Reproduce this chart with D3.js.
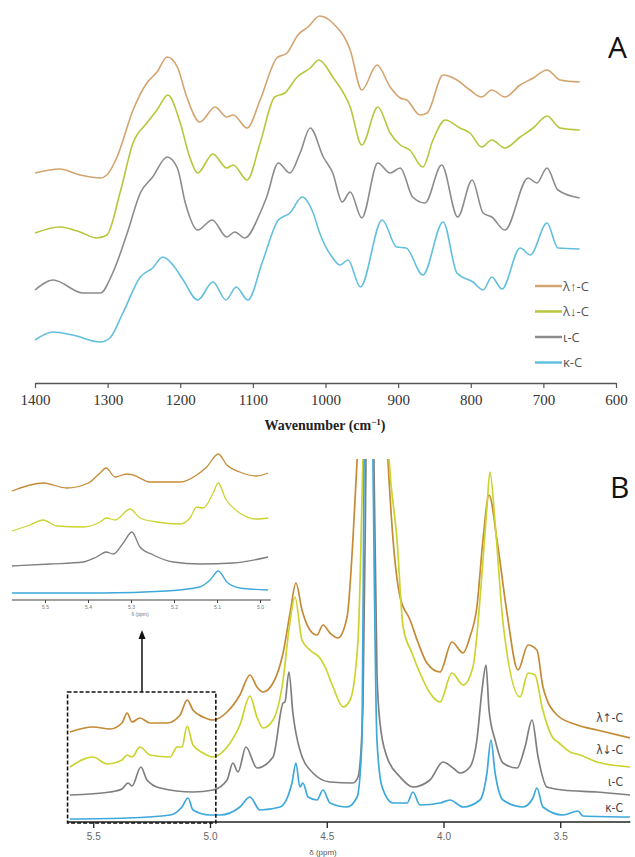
<!DOCTYPE html>
<html>
<head>
<meta charset="utf-8">
<script src="https://cdn.jsdelivr.net/npm/d3@7"></script>
<style>
  body { margin: 0; background: #fff; }
  svg { display: block; }
</style>
</head>
<body>
<div id="chart"></div>
<script>
// ---- data: panel A (FTIR), [wavenumber cm-1, absorbance a.u. incl. offset]
const irSeries = ["λ↑-C", "λ↓-C", "ι-C", "κ-C"];
const irTicks = [1400, 1300, 1200, 1100, 1000, 900, 800, 700, 600];

const irLambdaUp = [[1400,21.0],[1366,21.4],[1338,20.8],[1310,20.5],[1301,20.8],[1287,22.6],[1265,27.3],[1246,30.0],[1232,31.1],[1218,32.6],[1204,31.6],[1191,28.6],[1173,26.1],[1152,27.6],[1136,26.6],[1127,26.8],[1108,25.5],[1090,28.3],[1067,32.5],[1053,33.0],[1038,34.8],[1024,35.6],[1008,36.7],[990,36.0],[966,33.3],[950,29.3],[929,31.8],[911,29.6],[897,28.5],[888,28.3],[870,26.8],[860,27.0],[838,30.8],[819,30.3],[801,29.3],[785,28.6],[771,29.3],[753,28.6],[732,29.8],[714,30.5],[695,31.3],[677,30.3],[650,30.1]];
const irLambdaDown = [[1400,15.0],[1366,15.6],[1338,15.1],[1315,14.5],[1301,14.8],[1283,19.0],[1265,24.0],[1246,26.0],[1232,27.3],[1217,28.8],[1200,26.0],[1187,22.6],[1176,21.0],[1155,22.9],[1136,21.5],[1127,21.8],[1108,20.3],[1090,24.0],[1070,28.6],[1056,29.0],[1039,30.6],[1021,31.5],[1009,32.3],[990,30.6],[966,27.6],[950,23.8],[928,27.6],[911,25.0],[897,23.8],[884,23.3],[866,21.6],[852,24.3],[835,26.3],[815,25.5],[801,25.0],[785,23.6],[771,24.3],[753,23.5],[732,24.6],[714,25.5],[695,26.7],[677,25.5],[650,25.3]];
const irIota = [[1400,9.3],[1375,10.3],[1334,9.0],[1310,9.0],[1293,11.0],[1273,15.0],[1255,19.0],[1238,20.6],[1218,22.6],[1204,21.5],[1193,18.0],[1176,15.3],[1156,16.3],[1136,14.6],[1125,15.1],[1111,14.5],[1090,17.0],[1081,18.6],[1065,22.0],[1049,21.0],[1035,23.0],[1021,25.5],[1003,22.6],[990,21.0],[977,18.1],[966,19.1],[950,16.5],[928,22.0],[911,21.0],[897,21.5],[880,18.6],[863,18.0],[840,21.8],[818,16.6],[798,20.3],[783,17.0],[771,16.6],[753,15.3],[721,20.5],[709,20.0],[695,21.5],[680,19.3],[650,18.5]];
const irKappa = [[1400,4.3],[1375,5.1],[1348,4.8],[1310,4.1],[1297,4.5],[1279,7.0],[1255,10.6],[1238,11.5],[1224,12.6],[1210,11.8],[1196,10.3],[1176,8.3],[1155,10.1],[1137,8.3],[1123,9.6],[1107,8.3],[1086,12.3],[1065,16.3],[1049,17.0],[1032,18.6],[1017,17.0],[1008,15.0],[990,12.5],[980,11.8],[969,12.3],[952,9.6],[922,16.3],[902,13.6],[889,13.5],[866,10.8],[838,16.1],[819,11.0],[797,10.1],[783,9.3],[771,10.6],[757,9.4],[732,13.5],[718,12.8],[695,16.0],[680,13.5],[650,13.4]];

// ---- data: panel B (1H NMR), [ppm, intensity a.u. incl. offset]
const nmrSeries = ["λ↑-C", "λ↓-C", "ι-C", "κ-C"];
const nmrTicks = [5.5, 5.0, 4.5, 4.0, 3.5];

const nmrLambdaUp = [[5.600,9.0],[5.501,9.5],[5.428,9.3],[5.377,9.9],[5.355,10.9],[5.334,10.0],[5.300,10.4],[5.257,9.9],[5.184,9.9],[5.128,10.7],[5.098,12.2],[5.073,11.2],[5.030,10.5],[4.987,10.2],[4.927,11.0],[4.872,12.7],[4.829,14.7],[4.799,13.5],[4.773,13.0],[4.730,13.9],[4.687,16.9],[4.657,20.9],[4.632,23.9],[4.606,21.2],[4.572,19.2],[4.542,18.7],[4.516,19.7],[4.486,18.9],[4.452,18.4],[4.413,20.5],[4.388,28.2],[4.370,36.2],[4.310,80],[4.238,36.2],[4.216,28.2],[4.186,22.5],[4.143,20.2],[4.113,18.2],[4.071,15.9],[4.015,15.0],[3.964,18.0],[3.916,16.9],[3.887,18.5],[3.857,21.5],[3.831,28.2],[3.805,32.7],[3.771,28.2],[3.728,20.9],[3.681,15.2],[3.638,17.7],[3.600,17.2],[3.574,13.5],[3.514,10.7],[3.428,9.7],[3.343,9.2],[3.201,8.4]];
const nmrLambdaDown = [[5.600,5.5],[5.501,6.5],[5.441,5.8],[5.377,6.2],[5.355,6.7],[5.334,6.5],[5.300,7.5],[5.257,6.7],[5.171,6.5],[5.141,7.5],[5.120,7.5],[5.098,9.6],[5.073,7.7],[5.030,6.9],[4.987,6.5],[4.927,7.5],[4.872,9.7],[4.829,12.6],[4.799,10.5],[4.773,9.4],[4.730,10.2],[4.687,14.2],[4.662,19.2],[4.636,22.5],[4.606,18.2],[4.572,17.2],[4.529,16.4],[4.507,15.5],[4.473,13.5],[4.430,11.5],[4.400,12.2],[4.366,18.2],[4.345,36.2],[4.300,80],[4.233,36.2],[4.199,28.2],[4.173,19.5],[4.135,16.9],[4.101,14.9],[4.058,12.9],[4.015,12.0],[3.964,14.9],[3.916,13.7],[3.874,15.5],[3.835,24.9],[3.814,31.5],[3.801,35.0],[3.779,29.9],[3.745,19.9],[3.672,12.5],[3.638,14.9],[3.608,14.7],[3.578,11.5],[3.531,8.4],[3.510,8.0],[3.458,7.0],[3.415,6.7],[3.343,6.0],[3.201,5.5]];
const nmrIota = [[5.600,2.7],[5.428,3.0],[5.377,3.3],[5.351,3.9],[5.334,3.6],[5.296,5.5],[5.270,4.2],[5.214,3.4],[5.073,3.0],[4.987,3.2],[4.927,4.2],[4.902,5.9],[4.880,5.0],[4.846,7.5],[4.799,5.4],[4.730,6.5],[4.687,11.9],[4.679,12.0],[4.662,15.0],[4.645,10.9],[4.615,7.2],[4.559,4.9],[4.486,4.0],[4.388,3.9],[4.366,4.5],[4.345,11.5],[4.332,36.2],[4.315,80],[4.298,36.2],[4.285,14.9],[4.272,9.9],[4.242,6.5],[4.186,4.5],[4.131,3.5],[4.058,4.2],[4.002,6.0],[3.959,5.4],[3.929,4.9],[3.887,5.5],[3.857,8.2],[3.835,13.2],[3.818,15.7],[3.805,11.2],[3.779,8.2],[3.745,5.9],[3.685,5.4],[3.651,7.5],[3.621,10.2],[3.595,6.5],[3.557,3.5],[3.488,3.2],[3.343,3.0],[3.201,2.7]];
const nmrKappa = [[5.600,0.3],[5.355,0.4],[5.171,0.7],[5.120,1.5],[5.094,2.4],[5.073,1.2],[5.000,0.7],[4.957,0.7],[4.872,1.5],[4.829,2.5],[4.786,1.2],[4.700,1.5],[4.649,3.9],[4.632,5.9],[4.615,3.5],[4.602,3.9],[4.580,2.5],[4.542,2.2],[4.516,3.2],[4.486,1.9],[4.413,1.5],[4.370,2.5],[4.349,8.2],[4.340,36.2],[4.320,80],[4.302,36.2],[4.285,8.2],[4.263,3.5],[4.216,1.9],[4.156,1.9],[4.131,3.0],[4.101,1.7],[4.015,1.9],[3.972,2.2],[3.916,1.5],[3.844,2.2],[3.814,4.9],[3.797,8.2],[3.779,4.9],[3.745,2.2],[3.660,1.5],[3.617,2.4],[3.600,3.4],[3.574,1.5],[3.488,0.7],[3.424,1.1],[3.403,0.6],[3.201,0.5]];

// ---- data: inset (zoom 5.6 - 5.0 ppm)
const insetTicks = [5.5, 5.4, 5.3, 5.2, 5.1, 5.0];
const insetLambdaUp = [[5.577,10.9],[5.504,11.7],[5.450,11.2],[5.399,11.7],[5.372,12.7],[5.358,13.2],[5.337,12.3],[5.310,12.6],[5.295,12.5],[5.256,11.8],[5.186,11.8],[5.147,12.5],[5.124,13.3],[5.097,14.6],[5.077,13.5],[5.047,12.8],[5.008,12.4],[4.981,12.7]];
const insetLambdaDown = [[5.577,6.9],[5.535,7.5],[5.504,8.0],[5.473,7.4],[5.411,7.3],[5.372,7.8],[5.357,8.2],[5.337,8.0],[5.302,9.1],[5.279,8.2],[5.240,7.8],[5.186,7.6],[5.163,8.2],[5.147,9.3],[5.132,9.2],[5.109,10.7],[5.097,11.7],[5.081,10.2],[5.047,8.7],[5.008,8.1],[4.981,8.2]];
const insetIota = [[5.577,3.4],[5.488,3.6],[5.411,3.8],[5.380,4.3],[5.358,4.8],[5.341,4.6],[5.318,5.7],[5.298,6.8],[5.279,5.3],[5.248,4.5],[5.202,3.8],[5.140,3.6],[5.062,3.7],[4.981,4.3]];
const insetKappa = [[5.577,0.7],[5.372,0.7],[5.217,0.9],[5.140,1.3],[5.116,2.0],[5.097,2.9],[5.077,1.8],[5.047,1.2],[4.981,1.0]];

const colorsA = ["#d4a470", "#b8c63c", "#8c8c8c", "#62c0dd"];
const colorsB = ["#c48a36", "#cbd42e", "#7f7f7f", "#3da8db"];

const width = 635;
const height = 857;

const svg = d3.select("#chart")
    .append("svg")
    .attr("width", width)
    .attr("height", height);

// ================= Panel A =================
const xA = d3.scaleLinear().domain([1400, 600]).range([35, 616]);
const yA = d3.scaleLinear().domain([0, 38]).range([383, 3]);

const lineA = d3.line()
    .x(d => xA(d[0]))
    .y(d => yA(d[1]))
    .curve(d3.curveMonotoneX);

const irData = [irLambdaUp, irLambdaDown, irIota, irKappa];

svg.append("g")
    .selectAll("path")
    .data(irData)
    .enter().append("path")
    .attr("d", lineA)
    .attr("fill", "none")
    .attr("stroke", (d, i) => colorsA[i])
    .attr("stroke-width", 1.6);

const axisA = svg.append("g")
    .attr("transform", "translate(0,383)")
    .call(d3.axisBottom(xA).tickValues(irTicks).tickFormat(d3.format("d")).tickSize(5).tickSizeOuter(0).tickPadding(6));
axisA.select(".domain").attr("stroke", "#555").attr("stroke-width", 1.4);
axisA.selectAll(".tick line").attr("stroke", "#555").attr("stroke-width", 1.2);
axisA.selectAll(".tick text")
    .attr("fill", "#333")
    .style("font-family", "'Liberation Serif', serif")
    .style("font-size", "15px");

const titleA = svg.append("text")
    .attr("x", 325)
    .attr("y", 430)
    .attr("text-anchor", "middle")
    .style("font-family", "'Liberation Serif', serif")
    .style("font-weight", "bold")
    .style("font-size", "14px")
    .attr("fill", "#222");
titleA.append("tspan").text("Wavenumber (cm");
titleA.append("tspan").attr("dy", -5).style("font-size", "9px").text("−1");
titleA.append("tspan").attr("dy", 5).text(")");

// Legend A
const legendA = svg.append("g")
    .selectAll("g")
    .data(irSeries)
    .enter().append("g")
    .attr("transform", (d, i) => `translate(535, ${286 + i * 25.5})`);
legendA.append("line")
    .attr("x1", 0).attr("x2", 27)
    .attr("stroke", (d, i) => colorsA[i])
    .attr("stroke-width", 2.5);
legendA.append("text")
    .attr("x", 28)
    .attr("dy", "0.35em")
    .style("font-family", "'Open Sans', sans-serif")
    .style("font-size", "13px")
    .attr("fill", "#555")
    .text(d => d);

svg.append("text")
    .attr("x", 608).attr("y", 58)
    .style("font-family", "'Open Sans', sans-serif")
    .style("font-size", "30px")
    .attr("fill", "#111")
    .text("A");

// ================= Panel B =================
const xB = d3.scaleLinear().domain([5.0, 4.0]).range([210, 443.5]);
const yB = d3.scaleLinear().domain([0, 36.2]).range([822, 460]);

svg.append("defs").append("clipPath")
    .attr("id", "clipB")
    .append("rect")
    .attr("x", 60).attr("y", 459)
    .attr("width", 575).attr("height", 370);

const lineB = d3.line()
    .x(d => xB(d[0]))
    .y(d => yB(d[1]))
    .curve(d3.curveMonotoneX);

const nmrData = [nmrLambdaUp, nmrLambdaDown, nmrIota, nmrKappa];

svg.append("g")
    .attr("clip-path", "url(#clipB)")
    .selectAll("path")
    .data(nmrData)
    .enter().append("path")
    .attr("d", lineB)
    .attr("fill", "none")
    .attr("stroke", (d, i) => colorsB[i])
    .attr("stroke-width", 1.7);

const axisB = svg.append("g")
    .attr("transform", "translate(0,822)")
    .call(d3.axisBottom(xB).tickValues(nmrTicks).tickFormat(d3.format(".1f")).tickSize(6).tickSizeOuter(0).tickPadding(5));
axisB.select(".domain")
    .attr("d", `M${xB(5.61)},0H${xB(3.2)}`)
    .attr("stroke", "#222").attr("stroke-width", 1.5);
axisB.selectAll(".tick line").attr("stroke", "#222").attr("stroke-width", 1.3);
axisB.selectAll(".tick text")
    .attr("fill", "#666")
    .style("font-family", "'Liberation Sans', sans-serif")
    .style("font-size", "10px");

svg.append("text")
    .attr("x", 323).attr("y", 855)
    .attr("text-anchor", "middle")
    .style("font-family", "'Liberation Sans', sans-serif")
    .style("font-size", "8px")
    .attr("fill", "#555")
    .text("δ (ppm)");

// labels on right of B
const labelYB = [718, 750, 782, 808];
svg.append("g")
    .selectAll("text")
    .data(nmrSeries)
    .enter().append("text")
    .attr("x", 623)
    .attr("y", (d, i) => labelYB[i])
    .attr("dy", "0.35em")
    .attr("text-anchor", "end")
    .style("font-family", "'DejaVu Sans Condensed', 'Liberation Sans', sans-serif")
    .style("font-size", "12px")
    .attr("fill", "#444")
    .text(d => d);

svg.append("text")
    .attr("x", 610).attr("y", 498)
    .style("font-family", "'Open Sans', sans-serif")
    .style("font-size", "30px")
    .attr("fill", "#111")
    .text("B");

// dashed zoom box + arrow
svg.append("rect")
    .attr("x", xB(5.61)).attr("y", 692)
    .attr("width", xB(4.975) - xB(5.61)).attr("height", 131)
    .attr("fill", "none")
    .attr("stroke", "#111")
    .attr("stroke-width", 1.6)
    .attr("stroke-dasharray", "4,2");

svg.append("line")
    .attr("x1", 142).attr("x2", 142)
    .attr("y1", 692).attr("y2", 638)
    .attr("stroke", "#111").attr("stroke-width", 1.5);
svg.append("path")
    .attr("d", "M138.5,639 L142,630 L145.5,639 Z")
    .attr("fill", "#111");

// ================= Inset =================
const xI = d3.scaleLinear().domain([5.5, 5.0]).range([45, 260]);
const yI = d3.scaleLinear().domain([0, 15]).range([600, 450]);

const lineI = d3.line()
    .x(d => xI(d[0]))
    .y(d => yI(d[1]))
    .curve(d3.curveMonotoneX);

const insetData = [insetLambdaUp, insetLambdaDown, insetIota, insetKappa];

svg.append("g")
    .selectAll("path")
    .data(insetData)
    .enter().append("path")
    .attr("d", lineI)
    .attr("fill", "none")
    .attr("stroke", (d, i) => colorsB[i])
    .attr("stroke-width", 1.3);

const axisI = svg.append("g")
    .attr("transform", "translate(0,600)")
    .call(d3.axisBottom(xI).tickValues(insetTicks).tickFormat(d3.format(".1f")).tickSize(3).tickSizeOuter(0).tickPadding(2));
axisI.select(".domain")
    .attr("d", `M${xI(5.577)},0H${xI(4.975)}`)
    .attr("stroke", "#444").attr("stroke-width", 1);
axisI.selectAll(".tick line").attr("stroke", "#444");
axisI.selectAll(".tick text")
    .attr("fill", "#777")
    .style("font-family", "'Liberation Sans', sans-serif")
    .style("font-size", "5px");

svg.append("text")
    .attr("x", 140).attr("y", 616)
    .attr("text-anchor", "middle")
    .style("font-family", "'Liberation Sans', sans-serif")
    .style("font-size", "5px")
    .attr("fill", "#777")
    .text("δ (ppm)");
</script>
</body>
</html>
